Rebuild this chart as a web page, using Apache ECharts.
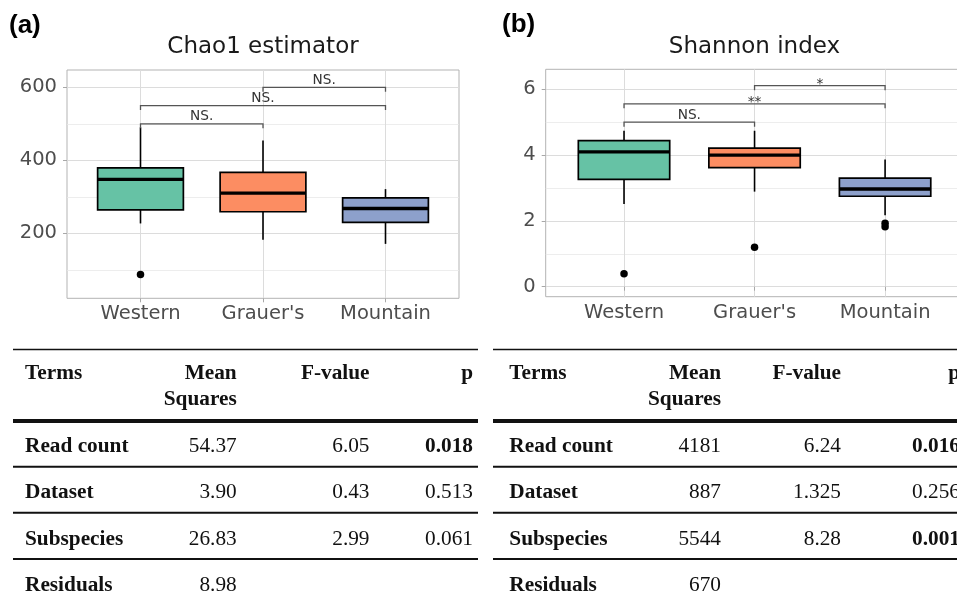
<!DOCTYPE html>
<html><head><meta charset="utf-8">
<script src="https://cdn.jsdelivr.net/npm/echarts@6/dist/echarts.min.js"></script>
<style>html,body{margin:0;padding:0;background:#fff;}#chart{width:957px;height:601px;}</style>
</head><body><div id="chart"></div>
<script>
// ---------- data ----------
const categories = ['Western', "Grauer's", 'Mountain'];
const categoryPos = [1, 2, 3];
const boxColors = ['#66c2a5', '#fc8d62', '#8da0cb'];

const chao1Title = 'Chao1 estimator';
const chao1Ticks = [200, 400, 600];
const chao1MinorTicks = [100, 300, 500];
// [lower whisker, Q1, median, Q3, upper whisker]
const chao1Stats = [
  [227, 264, 348, 379, 490],
  [182, 259, 310, 367, 454],
  [171, 230, 268, 297, 321]
];
const chao1Outliers = [[1, 87]];
const chao1Brackets = [[1, 2, 500], [1, 3, 550], [2, 3, 600]];
const chao1BracketLabels = ['NS.', 'NS.', 'NS.'];

const shannonTitle = 'Shannon index';
const shannonTicks = [0, 2, 4, 6];
const shannonMinorTicks = [1, 3, 5];
const shannonStats = [
  [2.51, 3.26, 4.10, 4.44, 4.74],
  [2.89, 3.62, 4.00, 4.21, 4.74],
  [2.17, 2.75, 2.97, 3.30, 3.87]
];
const shannonOutliers = [[1, 0.39], [2, 1.20], [3, 1.93], [3, 1.82]];
const shannonBrackets = [[1, 2, 5.0], [1, 3, 5.56], [2, 3, 6.11]];
const shannonBracketLabels = ['NS.', '**', '*'];

const tableHeader = ['Terms', 'Mean\nSquares', 'F-value', 'p'];
const tableTerms = ['Read count', 'Dataset', 'Subspecies', 'Residuals'];
const chao1MeanSq = ['54.37', '3.90', '26.83', '8.98'];
const chao1F = ['6.05', '0.43', '2.99', ''];
const chao1P = ['0.018', '0.513', '0.061', ''];
const chao1PBold = [true, false, false, false];
const shannonMeanSq = ['4181', '887', '5544', '670'];
const shannonF = ['6.24', '1.325', '8.28', ''];
const shannonP = ['0.016', '0.256', '0.001', ''];
const shannonPBold = [true, false, true, false];

// ---------- styles ----------
const SANS = '"DejaVu Sans"';
const SERIF = '"Liberation Serif"';
const AXIS_FS = 19.5;
const BOX_WIDTH = 0.7;
const TIP_PX = 4.5;

function xAxisFor(gridIndex) {
  return {
    type: 'value', gridIndex, min: 0.4, max: 3.6,
    axisLine: { show: false },
    axisTick: { show: true, length: 4, customValues: categoryPos, lineStyle: { color: '#a8a8a8', width: 1 } },
    axisLabel: {
      customValues: categoryPos, margin: 6, fontSize: AXIS_FS, fontFamily: SANS, color: '#4d4d4d',
      formatter: v => { const i = Math.round(v) - 1; return (Math.abs(v - Math.round(v)) < 1e-6 && categories[i]) ? categories[i] : ''; }
    },
    splitLine: { show: true, lineStyle: { color: '#dcdcdc', width: 1 } }
  };
}
function yAxesFor(gridIndex, min, max, ticks, minor) {
  return [{
    type: 'value', gridIndex, min, max,
    axisLine: { show: false },
    axisTick: { show: true, length: 4, customValues: ticks, lineStyle: { color: '#a8a8a8', width: 1 } },
    axisLabel: { customValues: ticks, margin: 10, fontSize: AXIS_FS, fontFamily: SANS, color: '#4d4d4d' },
    splitLine: { show: true, lineStyle: { color: '#dcdcdc', width: 1 } }
  }, {
    type: 'value', gridIndex, min, max, position: 'left',
    axisLine: { show: false },
    axisTick: { show: false, customValues: minor },
    axisLabel: { show: false, customValues: minor },
    splitLine: { show: true, lineStyle: { color: '#e9e9e9', width: 0.8 } }
  }];
}

function boxSeries(stats, xi, yi) {
  return {
    type: 'custom', xAxisIndex: xi, yAxisIndex: yi, z: 3,
    encode: { x: 0, y: [1, 2, 3, 4, 5] },
    data: stats.map((s, i) => [categoryPos[i]].concat(s).concat([i])),
    renderItem: function (params, api) {
      const x = api.value(0);
      const lo = api.coord([x, api.value(1)]);
      const q1 = api.coord([x, api.value(2)]);
      const md = api.coord([x, api.value(3)]);
      const q3 = api.coord([x, api.value(4)]);
      const hi = api.coord([x, api.value(5)]);
      const hw = api.size([BOX_WIDTH, 0])[0] / 2;
      const cx = md[0];
      const col = boxColors[api.value(6)];
      return {
        type: 'group', children: [
          { type: 'line', shape: { x1: cx, y1: lo[1], x2: cx, y2: q1[1] }, style: { stroke: '#000', lineWidth: 1.6 } },
          { type: 'line', shape: { x1: cx, y1: q3[1], x2: cx, y2: hi[1] }, style: { stroke: '#000', lineWidth: 1.6 } },
          { type: 'rect', shape: { x: cx - hw, y: q3[1], width: 2 * hw, height: q1[1] - q3[1] }, style: { fill: col, stroke: '#000', lineWidth: 1.7 } },
          { type: 'line', shape: { x1: cx - hw, y1: md[1], x2: cx + hw, y2: md[1] }, style: { stroke: '#000', lineWidth: 3.3 } }
        ]
      };
    }
  };
}
function outlierSeries(data, xi, yi) {
  return { type: 'scatter', xAxisIndex: xi, yAxisIndex: yi, z: 4, data, symbol: 'circle', symbolSize: 7.5,
    itemStyle: { color: '#000', opacity: 1 }, silent: true };
}
function bracketSeries(data, labels, xi, yi) {
  return {
    type: 'custom', xAxisIndex: xi, yAxisIndex: yi, z: 5,
    encode: { x: [0, 1], y: 2 },
    data,
    renderItem: function (params, api) {
      const y = api.value(2);
      const a = api.coord([api.value(0), y]);
      const b = api.coord([api.value(1), y]);
      const lab = labels[params.dataIndex];
      return {
        type: 'group', children: [
          { type: 'polyline', shape: { points: [[a[0], a[1] + TIP_PX], [a[0], a[1]], [b[0], b[1]], [b[0], b[1] + TIP_PX]] },
            style: { stroke: '#555', lineWidth: 1.3, fill: null } },
          { type: 'text', x: (a[0] + b[0]) / 2, y: a[1] + (lab === 'NS.' ? 0 : 6),
            style: { text: lab, font: '13.7px ' + SANS, fill: '#333', textAlign: 'center', textVerticalAlign: 'bottom', align: 'center', verticalAlign: 'bottom' } }
        ]
      };
    }
  };
}

// ---------- graphics (titles, tables) ----------
const graphics = [];
function addText(text, x, y, font, align, fill) {
  graphics.push({ type: 'text', x, y, silent: true,
    style: { text, font, fill: fill || '#111', textAlign: align, textVerticalAlign: 'middle', align, verticalAlign: 'middle' } });
}
function addRule(x0, x1, y, w) {
  graphics.push({ type: 'line', silent: true, shape: { x1: x0, y1: y, x2: x1, y2: y }, style: { stroke: '#111', lineWidth: w } });
}
addText('(a)', 9, 26, 'bold 26px "Liberation Sans"', 'left', '#000');
addText('(b)', 502, 25, 'bold 26px "Liberation Sans"', 'left', '#000');
addText(chao1Title, 263, 47.5, '23px ' + SANS, 'center', '#1a1a1a');
addText(shannonTitle, 754.5, 47.5, '23px ' + SANS, 'center', '#1a1a1a');

const TFS = 21.3;
const headerY = [373.5, 399.7];
const rowY = [446.5, 492.7, 539, 585.3];
function addTable(L, meanSq, fv, pv, pBold) {
  addRule(L.x0, L.x1, 349.5, 1.6);
  addRule(L.x0, L.x1, 421, 4.2);
  [466.7, 512.7, 559].forEach(y => addRule(L.x0, L.x1, y, 2));
  const bold = 'bold ' + TFS + 'px ' + SERIF, reg = TFS + 'px ' + SERIF;
  const colX = [L.termsX, L.meanX, L.fX, L.pX];
  const colAlign = ['left', 'right', 'right', 'right'];
  tableHeader.forEach((h, c) => h.split('\n').forEach((line, k) => addText(line, colX[c], headerY[k], bold, colAlign[c])));
  tableTerms.forEach((t, r) => {
    addText(t, L.termsX, rowY[r], bold, 'left');
    if (meanSq[r]) addText(meanSq[r], L.meanX, rowY[r], reg, 'right');
    if (fv[r]) addText(fv[r], L.fX, rowY[r], reg, 'right');
    if (pv[r]) addText(pv[r], L.pX, rowY[r], pBold[r] ? bold : reg, 'right');
  });
}
addTable({ x0: 13, x1: 478, termsX: 25, meanX: 236.7, fX: 369.5, pX: 473 }, chao1MeanSq, chao1F, chao1P, chao1PBold);
addTable({ x0: 493, x1: 965, termsX: 509.3, meanX: 721, fX: 841, pX: 960 }, shannonMeanSq, shannonF, shannonP, shannonPBold);

// ---------- option ----------
const gridStyle = { show: true, borderColor: '#b3b3b3', borderWidth: 1, backgroundColor: 'transparent', containLabel: false, outerBoundsMode: 'none' };
const option = {
  animation: false,
  backgroundColor: '#fff',
  grid: [
    Object.assign({ left: 67, top: 70, width: 392, height: 228.3 }, gridStyle),
    Object.assign({ left: 545.7, top: 69.3, width: 417.7, height: 227.4 }, gridStyle)
  ],
  xAxis: [xAxisFor(0), xAxisFor(1)],
  yAxis: yAxesFor(0, 21.9, 647.4, chao1Ticks, chao1MinorTicks).concat(yAxesFor(1, -0.304, 6.608, shannonTicks, shannonMinorTicks)),
  series: [
    boxSeries(chao1Stats, 0, 0),
    outlierSeries(chao1Outliers, 0, 0),
    bracketSeries(chao1Brackets, chao1BracketLabels, 0, 0),
    boxSeries(shannonStats, 1, 2),
    outlierSeries(shannonOutliers, 1, 2),
    bracketSeries(shannonBrackets, shannonBracketLabels, 1, 2)
  ],
  graphic: { elements: graphics }
};
const chart = echarts.init(document.getElementById('chart'), null, { renderer: 'canvas' });
chart.setOption(option);
</script></body></html>
